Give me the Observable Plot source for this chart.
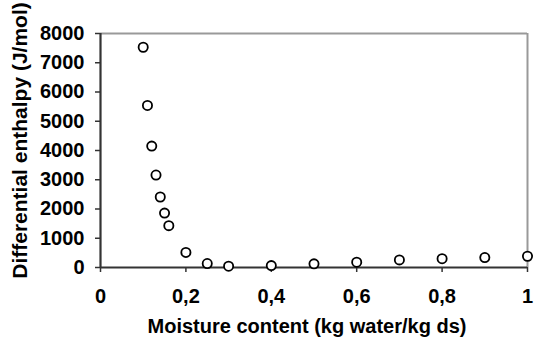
<!DOCTYPE html>
<html>
<head>
<meta charset="utf-8">
<script src="https://cdn.jsdelivr.net/npm/d3@7"></script>
<script src="https://cdn.jsdelivr.net/npm/@observablehq/plot@0.6"></script>
<style>
  html, body { margin: 0; padding: 0; background: #fff; }
</style>
</head>
<body>
<div id="chart"></div>
<script>
const moisture = [0.10, 0.11, 0.12, 0.13, 0.14, 0.15, 0.16, 0.20, 0.25, 0.30, 0.40, 0.50, 0.60, 0.70, 0.80, 0.90, 1.00];
const enthalpy = [7530, 5540, 4150, 3160, 2410, 1860, 1430, 515, 135, 45, 65, 125, 180, 260, 300, 340, 385];
const xTicks = [0, 0.2, 0.4, 0.6, 0.8, 1];
const yTicks = [0, 1000, 2000, 3000, 4000, 5000, 6000, 7000, 8000];
const xTitle = "Moisture content (kg water/kg ds)";
const yTitle = "Differential enthalpy (J/mol)";

const data = moisture.map((m, i) => ({m, h: enthalpy[i]}));
const font = "'Liberation Sans', Arial, sans-serif";

const chart = Plot.plot({
  width: 534,
  height: 338,
  marginLeft: 100,
  marginRight: 7,
  marginTop: 33,
  marginBottom: 71,
  style: {fontFamily: font, fontWeight: "bold", fontSize: "20px", color: "#000", background: "#fff", overflow: "visible"},
  x: {domain: [0, 1]},
  y: {domain: [0, 8000]},
  marks: [
    Plot.ruleY([8000], {stroke: "#999", strokeWidth: 2}),
    Plot.ruleX([1], {stroke: "#999", strokeWidth: 2}),
    Plot.axisY({ticks: yTicks, tickSize: 5, tickPadding: 11, stroke: "#333", strokeWidth: 1.5,
      tickFormat: d => String(d),
      fontSize: 20, fontWeight: "bold", fill: "#000", label: null}),
    Plot.axisX({ticks: xTicks, tickSize: 5, tickPadding: 16, stroke: "#333", strokeWidth: 1.5,
      tickFormat: d => String(d).replace(".", ","),
      fontSize: 20, fontWeight: "bold", fill: "#000", label: null}),
    Plot.text([yTitle], {frameAnchor: "left", rotate: -90, dx: -80, dy: -10,
      fontSize: 21, fontWeight: "bold", fill: "#000", textAnchor: "middle", lineAnchor: "middle"}),
    Plot.text([xTitle], {frameAnchor: "bottom", dy: 59, dx: -7,
      fontSize: 20, fontWeight: "bold", fill: "#000", textAnchor: "middle", lineAnchor: "middle"}),
    Plot.ruleX([0], {stroke: "#333", strokeWidth: 2.2}),
    Plot.ruleY([0], {stroke: "#333", strokeWidth: 2.2}),
    Plot.dot(data, {x: "m", y: "h", r: 4.6, stroke: "#000", strokeWidth: 1.8, fill: "#fff"})
  ]
});
document.getElementById("chart").appendChild(chart);
</script>
</body>
</html>
